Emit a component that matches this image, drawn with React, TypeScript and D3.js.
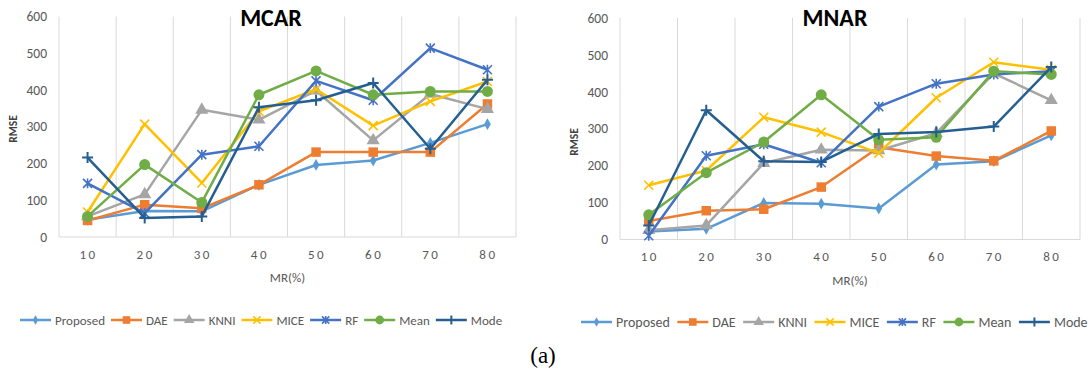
import React, { useEffect, useRef } from "react";
import * as d3 from "d3";

const categories = ["10", "20", "30", "40", "50", "60", "70", "80"];
const yTicks = [0, 100, 200, 300, 400, 500, 600];
const seriesNames = ["Proposed", "DAE", "KNNI", "MICE", "RF", "Mean", "Mode"];
const seriesColors = ["#5B9BD5", "#ED7D31", "#A5A5A5", "#FFC000", "#4472C4", "#70AD47", "#255E91"];
const seriesMarkers = ["diamond", "square", "triangle", "x", "asterisk", "circle", "plus"];

// MCAR
const mcarProposed = [47, 71, 70, 142, 196, 208, 256, 307];
const mcarDAE = [45, 88, 78, 142, 231, 231, 231, 362];
const mcarKNNI = [56, 116, 346, 319, 398, 263, 389, 348];
const mcarMICE = [68, 307, 147, 342, 402, 303, 369, 423];
const mcarRF = [146, 65, 224, 247, 425, 372, 514, 455];
const mcarMean = [56, 197, 94, 387, 452, 387, 396, 396];
const mcarMode = [216, 52, 56, 353, 372, 419, 240, 428];

// MNAR
const mnarProposed = [22, 29, 99, 97, 84, 203, 212, 282];
const mnarDAE = [50, 78, 82, 142, 250, 226, 213, 294];
const mnarKNNI = [25, 38, 207, 243, 241, 288, 450, 377];
const mnarMICE = [147, 187, 331, 291, 234, 384, 480, 460];
const mnarRF = [10, 227, 258, 208, 360, 422, 447, 456];
const mnarMean = [67, 181, 264, 392, 270, 277, 456, 447];
const mnarMode = [38, 350, 212, 210, 286, 291, 306, 467];

const FONT = "Carlito, Calibri, Lato, 'Open Sans', sans-serif";

type Panel = {
  title: string;
  data: number[][];
  x0: number;
  x1: number;
  yTop: number;
  yBottom: number;
  titleX: number;
  yLabelX: number;
  rmseX: number;
  rmseY: number;
  tickY: number;
  mrY: number;
  legendX: number;
  legendY: number;
  legendFont: number;
  legendGap: number;
};

const panels: Panel[] = [
  {
    title: "MCAR",
    data: [mcarProposed, mcarDAE, mcarKNNI, mcarMICE, mcarRF, mcarMean, mcarMode],
    x0: 59, x1: 516, yTop: 16.5, yBottom: 237,
    titleX: 271, yLabelX: 47, rmseX: 13, rmseY: 129, tickY: 259, mrY: 282,
    legendX: 20, legendY: 320, legendFont: 13, legendGap: 6,
  },
  {
    title: "MNAR",
    data: [mnarProposed, mnarDAE, mnarKNNI, mnarMICE, mnarRF, mnarMean, mnarMode],
    x0: 620, x1: 1080, yTop: 18, yBottom: 239.5,
    titleX: 835, yLabelX: 608, rmseX: 574, rmseY: 142, tickY: 261, mrY: 285,
    legendX: 581, legendY: 322, legendFont: 14, legendGap: 7.5,
  },
];

function drawMarker(g: any, kind: string, color: string, s: number) {
  if (kind === "diamond") {
    g.append("path").attr("d", d3.symbol(d3.symbolDiamond, 40 * s * s)()).attr("fill", color);
  } else if (kind === "square") {
    g.append("path").attr("d", d3.symbol(d3.symbolSquare, 90 * s * s)()).attr("fill", color);
  } else if (kind === "triangle") {
    g.append("path").attr("d", d3.symbol(d3.symbolTriangle, 75 * s * s)()).attr("fill", color);
  } else if (kind === "circle") {
    g.append("path").attr("d", d3.symbol(d3.symbolCircle, 95 * s * s)()).attr("fill", color);
  } else if (kind === "x") {
    const r = 4.5 * s;
    g.append("path").attr("d", `M${-r},${-r}L${r},${r}M${-r},${r}L${r},${-r}`)
      .attr("stroke", color).attr("stroke-width", 1.6).attr("fill", "none");
  } else if (kind === "asterisk") {
    const r = 4.5 * s;
    g.append("path").attr("d", `M${-r},${-r}L${r},${r}M${-r},${r}L${r},${-r}M0,${-r * 1.1}L0,${r * 1.1}`)
      .attr("stroke", color).attr("stroke-width", 1.6).attr("fill", "none");
  } else if (kind === "plus") {
    const r = 5.5 * s;
    g.append("path").attr("d", `M${-r},0L${r},0M0,${-r}L0,${r}`)
      .attr("stroke", color).attr("stroke-width", 2).attr("fill", "none");
  }
}

export default function App() {
  const ref = useRef<SVGSVGElement | null>(null);

  useEffect(() => {
    const svg = d3.select(ref.current);
    svg.selectAll("*").remove();
    svg.append("rect").attr("width", 1092).attr("height", 374).attr("fill", "#fff");

    panels.forEach((p) => {
      const g = svg.append("g");
      const x = d3.scaleBand().domain(categories).range([p.x0, p.x1]);
      const y = d3.scaleLinear().domain([0, 600]).range([p.yBottom, p.yTop]);

      // vertical gridlines at band edges
      const edges = categories.map((c) => x(c) as number).concat([p.x1]);
      g.selectAll(".grid").data(edges).enter().append("line")
        .attr("x1", (d) => d).attr("x2", (d) => d)
        .attr("y1", p.yTop).attr("y2", p.yBottom)
        .attr("stroke", "#D9D9D9").attr("stroke-width", 1);
      // bottom axis
      g.append("line").attr("x1", p.x0).attr("x2", p.x1)
        .attr("y1", p.yBottom).attr("y2", p.yBottom)
        .attr("stroke", "#D9D9D9").attr("stroke-width", 1.2);

      // y tick labels
      g.selectAll(".yt").data(yTicks).enter().append("text")
        .attr("x", p.yLabelX).attr("y", (d) => y(d))
        .attr("dy", "0.35em").attr("text-anchor", "end")
        .attr("font-family", FONT).attr("font-size", 13.5).attr("fill", "#595959")
        .text((d) => String(d));

      // x tick labels
      g.selectAll(".xt").data(categories).enter().append("text")
        .attr("x", (d) => (x(d) as number) + x.bandwidth() / 2 + 1)
        .attr("y", p.tickY).attr("text-anchor", "middle")
        .attr("font-family", FONT).attr("font-size", 13).attr("fill", "#595959")
        .attr("letter-spacing", 2.5)
        .text((d) => d);

      // axis titles
      g.append("text").attr("x", (p.x0 + p.x1) / 2).attr("y", p.mrY)
        .attr("text-anchor", "middle").attr("font-family", FONT).attr("font-size", 13)
        .attr("fill", "#595959").text("MR(%)");
      g.append("text").attr("transform", `translate(${p.rmseX + 4},${p.rmseY}) rotate(-90)`)
        .attr("text-anchor", "middle").attr("font-family", FONT).attr("font-size", 11.5)
        .attr("font-weight", "bold").attr("fill", "#404040").text("RMSE");

      // chart title
      g.append("text").attr("x", p.titleX).attr("y", 25.5).attr("text-anchor", "middle")
        .attr("font-family", FONT).attr("font-size", 24).attr("font-weight", "bold")
        .attr("fill", "#000").text(p.title);

      // series
      p.data.forEach((vals, i) => {
        const color = seriesColors[i];
        const line = d3.line<number>()
          .x((_, j) => (x(categories[j]) as number) + x.bandwidth() / 2)
          .y((d) => y(d));
        g.append("path").attr("d", line(vals)).attr("fill", "none")
          .attr("stroke", color).attr("stroke-width", 2.5).attr("stroke-linejoin", "round");
        vals.forEach((v, j) => {
          const mg = g.append("g").attr("transform",
            `translate(${(x(categories[j]) as number) + x.bandwidth() / 2},${y(v)})`);
          drawMarker(mg, seriesMarkers[i], color, 1);
        });
      });

      // legend
      let cx = p.legendX;
      const lg = g.append("g");
      seriesNames.forEach((name, i) => {
        const color = seriesColors[i];
        lg.append("line").attr("x1", cx).attr("x2", cx + 31)
          .attr("y1", p.legendY).attr("y2", p.legendY)
          .attr("stroke", color).attr("stroke-width", 2.5);
        const mg = lg.append("g").attr("transform", `translate(${cx + 15.5},${p.legendY})`);
        drawMarker(mg, seriesMarkers[i], color, 0.8);
        const t = lg.append("text").attr("x", cx + 35).attr("y", p.legendY)
          .attr("dy", "0.35em").attr("font-family", FONT).attr("font-size", p.legendFont)
          .attr("fill", "#595959").text(name);
        const w = (t.node() as SVGTextElement).getComputedTextLength();
        cx = cx + 35 + w + p.legendGap;
      });
    });

    svg.append("text").attr("x", 543).attr("y", 363).attr("text-anchor", "middle")
      .attr("font-family", "'Liberation Serif', 'Times New Roman', serif")
      .attr("font-size", 23).attr("fill", "#000").text("(a)");
  }, []);

  return (
    <svg ref={ref} width={1092} height={374} style={{ display: "block", position: "absolute", left: 0, top: 0 }} />
  );
}
